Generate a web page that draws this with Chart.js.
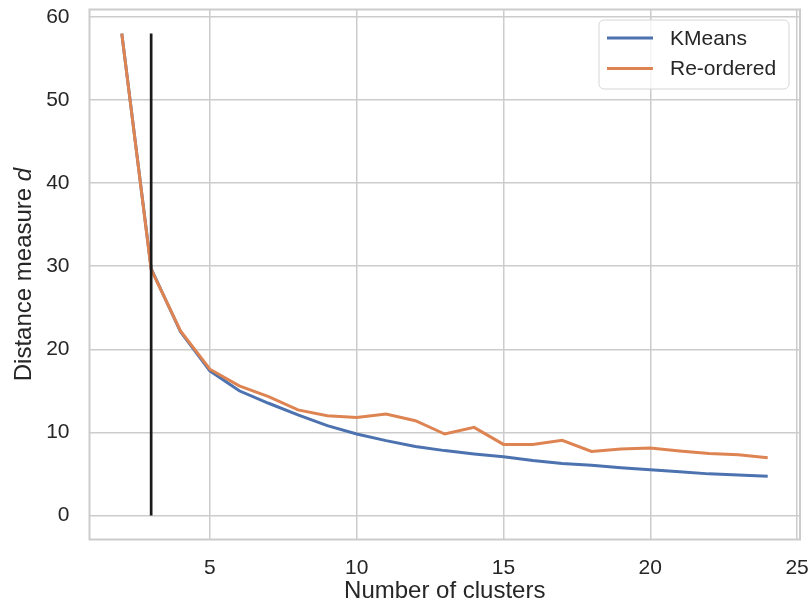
<!DOCTYPE html>
<html>
<head>
<meta charset="utf-8">
<script src="https://cdn.jsdelivr.net/npm/chart.js@4"></script>
<style>
  html, body { margin: 0; padding: 0; background: #ffffff; }
  #wrap { width: 812px; height: 610px; }
</style>
</head>
<body>
<div id="wrap"><canvas id="c" width="812" height="610"></canvas></div>
<script>
// ---- data ----
const clusters = [2, 3, 4, 5, 6, 7, 8, 9, 10, 11, 12, 13, 14, 15, 16, 17, 18, 19, 20, 21, 22, 23, 24];
const kmeans = [58.0, 29.7, 22.1, 17.4, 15.0, 13.5, 12.1, 10.8, 9.8, 9.0, 8.3, 7.8, 7.4, 7.05, 6.6, 6.25, 6.05, 5.75, 5.5, 5.25, 5.0, 4.85, 4.7];
const reordered = [58.0, 29.6, 22.2, 17.6, 15.6, 14.3, 12.7, 12.0, 11.8, 12.2, 11.4, 9.8, 10.6, 8.55, 8.55, 9.05, 7.7, 8.0, 8.1, 7.75, 7.45, 7.3, 6.95];
const elbowX = [3, 3];
const elbowY = [0, 58];
const seriesNames = ['KMeans', 'Re-ordered'];
const xTicks = [5, 10, 15, 20, 25];
const yTicks = [0, 10, 20, 30, 40, 50, 60];
const xLabel = 'Number of clusters';
const yLabelMain = 'Distance measure ';
const yLabelItalic = 'd';

const COLORS = ['#4c72b0', '#dd8452'];
const FONT = "'Liberation Sans', Arial, sans-serif";
const TXT = '#262626';
const GRID = '#cccccc';
const TITLE_SIZE = 24;

const toXY = (xs, ys) => xs.map((x, i) => ({ x: x, y: ys[i] }));

const framePlugin = {
  id: 'frame',
  afterDatasetsDraw(chart) {
    const { ctx, chartArea: a } = chart;
    ctx.save();
    ctx.strokeStyle = GRID;
    ctx.lineWidth = 2;
    ctx.strokeRect(a.left, a.top, a.right - a.left, a.bottom - a.top);
    ctx.restore();
  },
  afterDraw(chart) {
    const { ctx, chartArea: a } = chart;
    // y axis title with italic d
    ctx.save();
    const cy = (a.top + a.bottom) / 2;
    ctx.translate(31, cy);
    ctx.rotate(-Math.PI / 2);
    ctx.fillStyle = TXT;
    ctx.textBaseline = 'alphabetic';
    ctx.font = TITLE_SIZE + 'px ' + FONT;
    const w1 = ctx.measureText(yLabelMain).width;
    ctx.font = 'italic ' + TITLE_SIZE + 'px ' + FONT;
    const w2 = ctx.measureText(yLabelItalic).width;
    const start = -(w1 + w2) / 2;
    ctx.font = TITLE_SIZE + 'px ' + FONT;
    ctx.textAlign = 'left';
    ctx.fillText(yLabelMain, start, 0);
    ctx.font = 'italic ' + TITLE_SIZE + 'px ' + FONT;
    ctx.fillText(yLabelItalic, start + w1, 0);
    ctx.restore();

    // legend
    ctx.save();
    const bx = 599, by = 20, bw = 190, bh = 69, r = 5;
    ctx.beginPath();
    ctx.moveTo(bx + r, by);
    ctx.lineTo(bx + bw - r, by);
    ctx.arcTo(bx + bw, by, bx + bw, by + r, r);
    ctx.lineTo(bx + bw, by + bh - r);
    ctx.arcTo(bx + bw, by + bh, bx + bw - r, by + bh, r);
    ctx.lineTo(bx + r, by + bh);
    ctx.arcTo(bx, by + bh, bx, by + bh - r, r);
    ctx.lineTo(bx, by + r);
    ctx.arcTo(bx, by, bx + r, by, r);
    ctx.closePath();
    ctx.fillStyle = 'rgba(255,255,255,0.8)';
    ctx.fill();
    ctx.strokeStyle = '#d6d6d6';
    ctx.lineWidth = 1;
    ctx.stroke();
    const rows = [38, 68.5];
    seriesNames.forEach((name, i) => {
      ctx.beginPath();
      ctx.moveTo(607, rows[i]);
      ctx.lineTo(653, rows[i]);
      ctx.strokeStyle = COLORS[i];
      ctx.lineWidth = 3;
      ctx.stroke();
      ctx.fillStyle = TXT;
      ctx.font = '21px ' + FONT;
      ctx.textAlign = 'left';
      ctx.textBaseline = 'middle';
      ctx.fillText(name, 670, rows[i] + 1);
    });
    ctx.restore();
  }
};

new Chart(document.getElementById('c'), {
  type: 'line',
  data: {
    datasets: [
      {
        label: seriesNames[0],
        data: toXY(clusters, kmeans),
        borderColor: COLORS[0],
        backgroundColor: COLORS[0],
        borderWidth: 3,
        pointRadius: 0,
        tension: 0,
        order: 2
      },
      {
        label: seriesNames[1],
        data: toXY(clusters, reordered),
        borderColor: COLORS[1],
        backgroundColor: COLORS[1],
        borderWidth: 3,
        pointRadius: 0,
        tension: 0,
        order: 1
      },
      {
        label: 'elbow',
        data: toXY(elbowX, elbowY),
        borderColor: '#1a1a1a',
        backgroundColor: '#1a1a1a',
        borderWidth: 2.7,
        pointRadius: 0,
        tension: 0,
        order: 0
      }
    ]
  },
  options: {
    responsive: false,
    animation: false,
    devicePixelRatio: 1,
    layout: { padding: { left: 0, right: 12, top: 9.5, bottom: 0 } },
    plugins: {
      legend: { display: false },
      tooltip: { enabled: false }
    },
    scales: {
      x: {
        type: 'linear',
        min: 0.9,
        max: 25.1,
        afterBuildTicks(scale) { scale.ticks = xTicks.map(v => ({ value: v })); },
        afterFit(scale) {
          scale.height = 70.5;
          scale.paddingLeft = 0;
          scale.paddingRight = 0;
        },
        grid: { color: GRID, lineWidth: 1.5, drawTicks: false },
        border: { display: false },
        ticks: {
          color: TXT,
          font: { family: FONT, size: 21 },
          padding: 16,
          maxRotation: 0,
          callback: v => String(v)
        },
        title: {
          display: true,
          text: xLabel,
          color: TXT,
          font: { family: FONT, size: TITLE_SIZE },
          padding: { top: 0, bottom: 4 }
        }
      },
      y: {
        type: 'linear',
        min: -2.9,
        max: 60.9,
        afterBuildTicks(scale) { scale.ticks = yTicks.map(v => ({ value: v })); },
        afterFit(scale) {
          scale.width = 89.5;
          scale.paddingTop = 0;
          scale.paddingBottom = 0;
        },
        grid: { color: GRID, lineWidth: 1.5, drawTicks: false },
        border: { display: false },
        ticks: {
          color: TXT,
          font: { family: FONT, size: 21 },
          padding: 20,
          callback: v => String(v)
        }
      }
    }
  },
  plugins: [framePlugin]
});
</script>
</body>
</html>
